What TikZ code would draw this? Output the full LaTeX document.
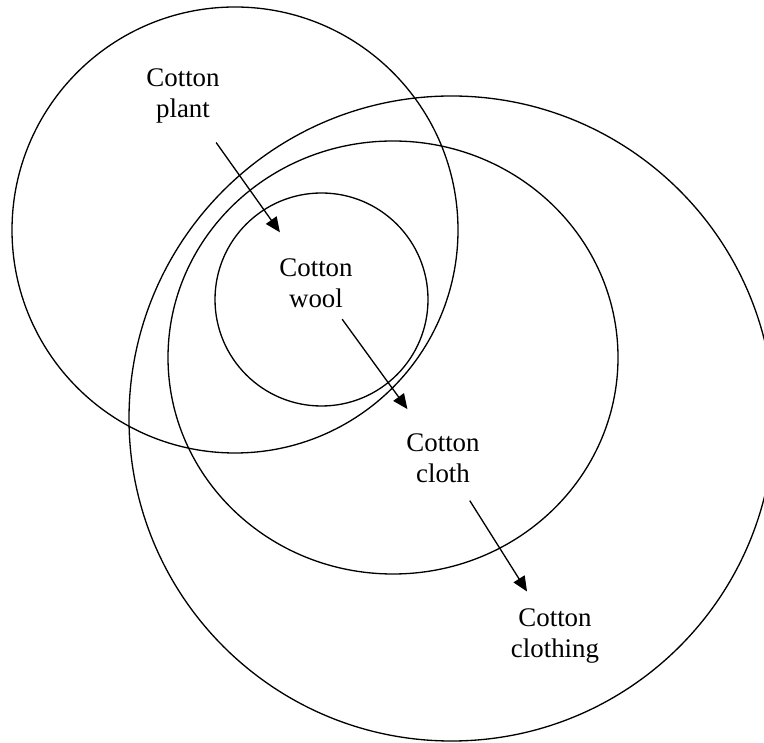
\documentclass[tikz,border=0pt]{standalone}
\usepackage{fontspec}
\setmainfont{Liberation Serif}
\usetikzlibrary{arrows.meta}

\begin{document}
\begin{tikzpicture}[auto, line width=0.75pt,
    lbl/.style={anchor=north, align=center, inner sep=0pt,
      font=\fontsize{15.3}{17.6}\selectfont},
    >={Triangle[length=0.3cm, width=0.26cm]}]
      \useasboundingbox (0, 0) rectangle (15.28, 14.84);
      \clip (0, 0) rectangle (15.28, 14.84);
      \draw (4.70, 10.24) circle (4.46);
      \draw (9.03, 6.47) circle (6.45);
      \draw (7.86, 7.69) ellipse (4.50 and 4.33);
      \draw (6.43, 8.85) circle (2.13);
      \node[lbl] (A) at (3.66, 13.48) {Cotton\\plant};
      \node[lbl] (B) at (6.32, 9.68) {Cotton\\wool};
      \node[lbl] (C) at (8.86, 6.18) {Cotton\\cloth};
      \node[lbl] (D) at (11.10, 2.68) {Cotton\\clothing};
      \draw[->, shorten <=0.46cm, shorten >=0.63cm] (A) to (B);
      \draw[->, shorten <=0.27cm, shorten >=0.59cm] (B) to (C);
      \draw[->, shorten <=0.41cm, shorten >=0.39cm] (C) to (D);
\end{tikzpicture}
\end{document}
